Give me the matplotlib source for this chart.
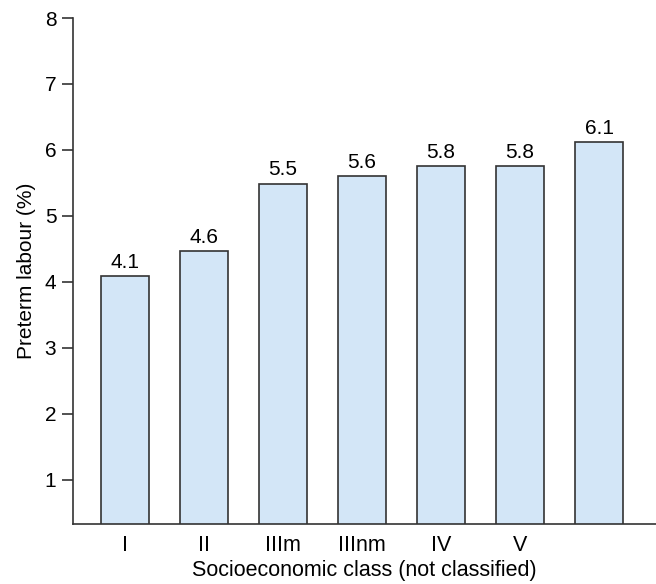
import matplotlib
matplotlib.use("Agg")
import matplotlib.pyplot as plt

categories = ["I", "II", "IIIm", "IIInm", "IV", "V", ""]
values = [4.09, 4.47, 5.49, 5.61, 5.76, 5.76, 6.12]
value_labels = ["4.1", "4.6", "5.5", "5.6", "5.8", "5.8", "6.1"]
yticks = [1, 2, 3, 4, 5, 6, 7, 8]

plt.rcParams['font.family'] = ['Liberation Sans', 'DejaVu Sans']
FS = 15.5

fig = plt.figure(figsize=(6.56, 5.84), dpi=100)
ax = fig.add_axes([73/656, 60/584, 1 - 73/656, (524-18)/584])

x = list(range(len(categories)))
ax.bar(x, values, width=0.61, color="#d3e6f7", edgecolor="#333333", linewidth=1.2)
for xi, v, lab in zip(x, values, value_labels):
    ax.annotate(lab, (xi, v), xytext=(0, 3), textcoords="offset points",
                ha="center", va="bottom", fontsize=15, color="black")

ax.set_xlim(-0.66, 6.72)
ax.set_ylim(0.333, 8)
ax.set_yticks(yticks)
ax.set_xticks(x)
ax.set_xticklabels(categories, fontsize=FS)
ax.tick_params(axis="x", length=0, pad=8)
ax.tick_params(axis="y", length=8, width=1.2, color="#333333", labelsize=15, pad=4, direction="out")

for s in ["top", "right"]:
    ax.spines[s].set_visible(False)
for s in ["left", "bottom"]:
    ax.spines[s].set_color("#333333")
    ax.spines[s].set_linewidth(1.2)
ax.spines["left"].set_bounds(0.333, 8)

ax.set_ylabel("Preterm labour (%)", fontsize=15, labelpad=6)
ax.set_xlabel("Socioeconomic class (not classified)", fontsize=FS, labelpad=3)

fig.savefig("out.png", dpi=100)
